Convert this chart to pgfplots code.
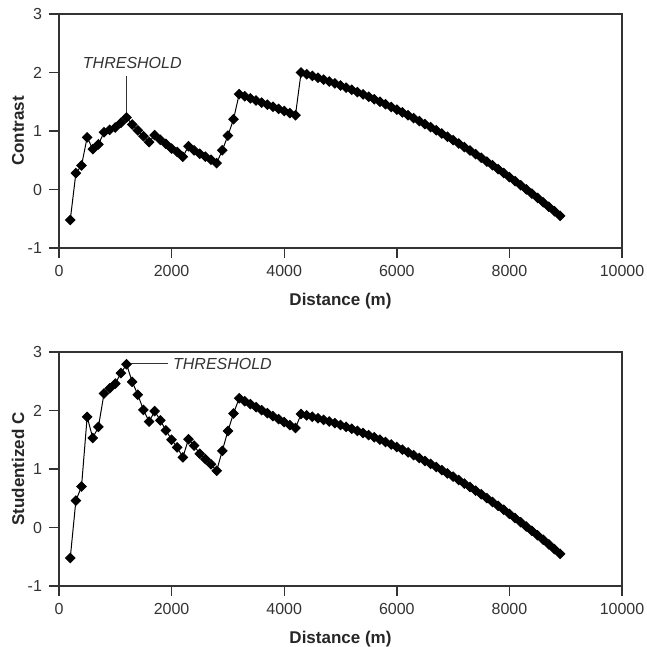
\documentclass[border=0pt]{standalone}
\usepackage{fontspec}
\setmainfont{Liberation Sans}
\usepackage{pgfplots}
\usepackage{pgfplotstable}
\pgfplotsset{compat=1.18}

\pgfplotstableread{
dist val
200 -0.52
300 0.28
400 0.41
500 0.89
600 0.69
700 0.77
800 0.98
900 1.02
1000 1.06
1100 1.14
1200 1.23
1300 1.11
1400 1.01
1500 0.91
1600 0.81
1700 0.93
1800 0.85
1900 0.78
2000 0.70
2100 0.64
2200 0.56
2300 0.74
2400 0.67
2500 0.61
2600 0.56
2700 0.51
2800 0.45
2900 0.67
3000 0.92
3100 1.20
3200 1.63
3300 1.594
3400 1.558
3500 1.522
3600 1.486
3700 1.450
3800 1.414
3900 1.378
4000 1.342
4100 1.306
4200 1.270
4300 2.000
4400 1.971
4500 1.942
4600 1.911
4700 1.879
4800 1.846
4900 1.812
5000 1.777
5100 1.741
5200 1.704
5300 1.665
5400 1.626
5500 1.585
5600 1.543
5700 1.500
5800 1.457
5900 1.411
6000 1.365
6100 1.318
6200 1.270
6300 1.220
6400 1.170
6500 1.118
6600 1.066
6700 1.012
6800 0.957
6900 0.901
7000 0.844
7100 0.786
7200 0.726
7300 0.666
7400 0.604
7500 0.542
7600 0.478
7700 0.413
7800 0.348
7900 0.281
8000 0.212
8100 0.143
8200 0.073
8300 0.002
8400 -0.071
8500 -0.144
8600 -0.219
8700 -0.295
8800 -0.372
8900 -0.450
}\contrast

\pgfplotstableread{
dist val
200 -0.52
300 0.46
400 0.70
500 1.89
600 1.53
700 1.72
800 2.29
900 2.38
1000 2.46
1100 2.64
1200 2.79
1300 2.49
1400 2.27
1500 2.01
1600 1.81
1700 1.99
1800 1.83
1900 1.66
2000 1.50
2100 1.37
2200 1.20
2300 1.51
2400 1.40
2500 1.26
2600 1.17
2700 1.08
2800 0.97
2900 1.31
3000 1.65
3100 1.95
3200 2.21
3300 2.159
3400 2.108
3500 2.057
3600 2.006
3700 1.955
3800 1.904
3900 1.853
4000 1.802
4100 1.751
4200 1.700
4300 1.940
4400 1.917
4500 1.893
4600 1.868
4700 1.841
4800 1.813
4900 1.783
5000 1.753
5100 1.721
5200 1.688
5300 1.653
5400 1.617
5500 1.580
5600 1.542
5700 1.502
5800 1.461
5900 1.419
6000 1.375
6100 1.331
6200 1.284
6300 1.237
6400 1.188
6500 1.138
6600 1.087
6700 1.034
6800 0.980
6900 0.925
7000 0.869
7100 0.811
7200 0.752
7300 0.692
7400 0.630
7500 0.567
7600 0.503
7700 0.437
7800 0.371
7900 0.302
8000 0.233
8100 0.162
8200 0.090
8300 0.017
8400 -0.057
8500 -0.133
8600 -0.210
8700 -0.289
8800 -0.369
8900 -0.450
}\studc

\pgfplotsset{
  distaxis/.style={
    scale only axis, width=281.5pt, height=117pt,
    xmin=0, xmax=10000, ymin=-1, ymax=3,
    xtick={0,2000,...,10000}, ytick={-1,0,...,3},
    scaled x ticks=false,
    axis line style={black!80,line width=0.7pt},
    tick align=outside, major tick length=5pt,
    tick style={black!80,line width=0.7pt},
    xtick pos=bottom, ytick pos=left,
    tick label style={font=\fontsize{8}{9}\selectfont,color=black!80},
    /pgf/number format/assume math mode=true,
    /pgf/number format/1000 sep={},
    xlabel={Distance (m)},
    label style={font=\fontsize{8.5}{10}\selectfont\bfseries,color=black!85},
    xlabel style={at={(axis description cs:0.5,-0.2436)},anchor=base},
    ylabel style={at={(axis description cs:-0.0728,0.5)},anchor=center},
    clip=false,
  },
  distplot/.style={black,line width=0.5pt,mark=square*,mark size=1.65pt,
    mark options={rotate=45,solid,fill=black}},
}

\begin{document}
\begin{tikzpicture}
\begin{axis}[distaxis, at={(0,0)}, anchor=south west, ylabel={Contrast}]
\addplot[distplot] table[x=dist,y=val] {\contrast};
\draw[black!80,line width=0.5pt] (axis cs:1200,1.31) -- (axis cs:1200,1.94);
\node[font=\fontsize{8}{9}\selectfont\itshape,text=black!80] at (axis cs:1302,2.16) {THRESHOLD};
\end{axis}
\begin{axis}[distaxis, at={(0,-169pt)}, anchor=south west, ylabel={Studentized C}]
\addplot[distplot] table[x=dist,y=val] {\studc};
\draw[black!80,line width=0.5pt] (axis cs:1249,2.81) -- (axis cs:1942,2.81);
\node[font=\fontsize{8}{9}\selectfont\itshape,text=black!80,anchor=west,inner sep=0pt] at (axis cs:2020,2.80) {THRESHOLD};
\end{axis}
\pgfresetboundingbox
\path[use as bounding box] (-29.5pt,-199.5pt) rectangle (294pt,124pt);
\end{tikzpicture}
\end{document}
